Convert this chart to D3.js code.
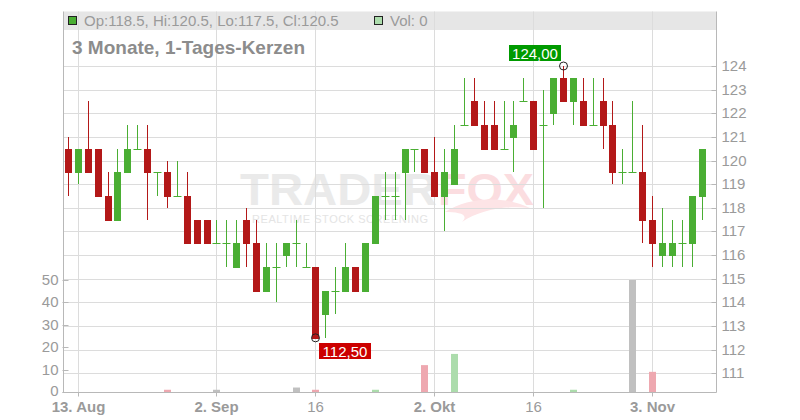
<!DOCTYPE html>
<html><head><meta charset="utf-8">
<script src="https://cdn.jsdelivr.net/npm/d3@7"></script>
<style>
body{margin:0;background:#fff}
svg{display:block}
text{font-family:"Liberation Sans",Arial,Helvetica,sans-serif}
</style>
</head><body>
<svg id="chart" width="800" height="420"></svg>
<script>
// ---- data ----
const firstDay = "2025-08-12";
const lastDay = "2025-11-10";
const openVals  = [120.5,119.5,120.5,120.5,118.5,117.5,119.5,120.5,120.5,119.5,119.5,118.5,118.5,117.5,117.5,116.5,116.5,115.5,117.5,116.5,114.5,115.5,116,116.5,115.5,115.5,113.5,114.5,114.5,115.5,114.5,116.5,118.5,118.5,119.5,120.5,120.5,119.5,118.5,119,121.5,122.5,121.5,121.5,120.5,121,122.5,122.5,121.5,122,123.5,122.5,122.5,121.5,122.5,121.5,119.5,119.5,119.5,117.5,116,116,116.5,116.5,118.5];
const highVals  = [121,120.5,122.5,120.5,119.5,120.5,121.5,121.5,121.5,119.5,120,120,119.5,117.5,117.5,117.5,117.5,117.5,118,117.5,116.5,116.5,116.5,117.5,116.5,115.5,114.5,115.5,116.5,115.5,116.5,118.5,119.5,119.5,120.5,120.5,120.5,121,120.5,121.5,123.5,123.5,122.5,122.5,122.5,122.5,123.5,122.5,123,123.5,124,123.5,123.5,123.5,123.5,122.5,120.5,122.5,121.5,118.5,118,117.5,117.5,118.5,120.5];
const lowVals   = [118.5,119,119.5,118.5,117.5,117.5,119.5,120.5,117.5,118.5,118,118.5,116.5,116.5,116.5,116.5,115.5,115.5,115.5,114.5,114.5,114,115.5,115.5,115.5,112.5,112.5,113.5,114.5,114.5,114.5,116.5,117.5,117.5,117.5,119.5,119.5,118.5,117,119,121.5,121.5,120.5,120.5,120.5,119.5,122.5,120.5,118,121.5,122.5,121.5,121.5,121.5,120.5,119,119,119.5,116.5,115.5,115.5,115.5,115.5,115.5,117.5];
const closeVals = [119.5,120.5,119.5,118.5,117.5,119.5,120.5,120.5,119.5,119.5,118.5,118.5,116.5,116.5,116.5,116.5,116.5,116.5,116.5,114.5,115.5,115.5,116.5,116.5,115.5,112.5,114.5,114.5,115.5,114.5,116.5,118.5,118.5,118.5,120.5,120.5,119.5,118.5,119.5,120.5,121.5,121.5,120.5,120.5,120.5,121.5,122.5,120.5,121.5,123.5,122.5,123.5,121.5,121.5,121.5,119.5,119.5,119.5,117.5,116.5,116.5,116.5,116.5,118.5,120.5];
const volumeVals = [0,0,0,0,0,0,0,0,0,0,1,0,0,0,0,1,0,0,0,0,0,0,0,2,0,1,0,0,0,0,0,1,0,0,0,0,12,0,0,17,0,0,0,0,0,0,0,0,0,0,0,1,0,0,0,0,0,50,0,9,0,0,0,0,0];
const priceTicks = [111,112,113,114,115,116,117,118,119,120,121,122,123,124];
const volumeTicks = [0,10,20,30,40,50];
const tickDates  = ["2025-08-13","2025-09-02","2025-09-16","2025-10-02","2025-10-16","2025-11-03"];
const tickLabels = ["13. Aug","2. Sep","16","2. Okt","16","3. Nov"];
const tickBold   = [true,true,false,true,false,true];
const titleText = "3 Monate, 1-Tages-Kerzen";
const legendText = "Op:118.5, Hi:120.5, Lo:117.5, Cl:120.5";
const volLegendText = "Vol: 0";

// ---- trading days (weekdays) ----
const fmt = d3.timeFormat("%Y-%m-%d");
const parse = d3.timeParse("%Y-%m-%d");
const days = d3.timeDay.range(parse(firstDay), d3.timeDay.offset(parse(lastDay),1))
  .filter(d => d.getDay() !== 0 && d.getDay() !== 6).map(fmt);

const data = days.map((d,i)=>({date:d,o:openVals[i],h:highVals[i],l:lowVals[i],c:closeVals[i],v:volumeVals[i]}));

const RED = "#b31818", GREEN = "#4aae33";
const PINK = "#eea8b0", LGREEN = "#acdcac", GRAY = "#c0c0c0";
const TXT = "#9a9a9a";

const L = 63.5, R = 716.5, T = 11.5, B = 392.5;

const svg = d3.select("#chart");
const x = d3.scaleBand().domain(days).range([63.5, 707.0]).paddingInner(0).paddingOuter(0);
const cx = d => Math.floor(x(d) + x.bandwidth()/2) + 0.5;
const y = d3.scaleLinear().domain([111,124]).range([373.3,66]);
const yv = d3.scaleLinear().domain([0,50]).range([392,280]);
const py = v => Math.round(y(v));

// legend bar
svg.append("rect").attr("x",L).attr("y",T).attr("width",R-L).attr("height",30-T).attr("fill","#e6e6e6");

// watermark
const wm = svg.append("g");
wm.append("text").attr("x",240).attr("y",205).attr("font-size",44).attr("font-weight","bold")
  .attr("fill","#eaeaea").attr("textLength",197).attr("lengthAdjust","spacingAndGlyphs").text("TRADER");
wm.append("text").attr("x",438).attr("y",205).attr("font-size",44).attr("font-weight","bold")
  .attr("fill","#fbdde0").attr("textLength",96).attr("lengthAdjust","spacingAndGlyphs").text("FOX");
wm.append("path").attr("d","M445,212 C470,196 505,196 530,208 C505,205 480,210 462,222 C470,214 458,212 445,212 Z")
  .attr("fill","#fde4e6");
wm.append("text").attr("x",252).attr("y",223).attr("font-size",11)
  .attr("fill","#e4e4e4").attr("textLength",176).attr("lengthAdjust","spacing").text("REALTIME STOCK SCREENING");

// horizontal grid
svg.append("g").selectAll("line").data(priceTicks).join("line")
  .attr("x1",L).attr("x2",R).attr("y1",d=>py(d)+0.5).attr("y2",d=>py(d)+0.5)
  .attr("stroke","#dcdcdc").attr("stroke-width",1);
// vertical grid
svg.append("g").selectAll("line").data(tickDates).join("line")
  .attr("x1",d=>cx(d)).attr("x2",d=>cx(d)).attr("y1",T).attr("y2",B)
  .attr("stroke","#dcdcdc").attr("stroke-width",1);

// volume bars
svg.append("g").selectAll("rect").data(data.filter(d=>d.v>0)).join("rect")
  .attr("x",d=>Math.round(cx(d.date)-3.5)).attr("width",7)
  .attr("y",d=>yv(d.v)).attr("height",d=>392-yv(d.v))
  .attr("fill",d=>d.c<d.o?PINK:(d.c>d.o?LGREEN:GRAY));

// candles
const cg = svg.append("g");
data.forEach(d=>{
  const col = d.c<d.o?RED:GREEN;
  const X = cx(d.date);
  cg.append("line").attr("x1",X).attr("x2",X).attr("y1",py(d.h)).attr("y2",py(d.l))
    .attr("stroke",col).attr("stroke-width",1);
  if(d.o===d.c){
    cg.append("line").attr("x1",X-4).attr("x2",X+4).attr("y1",py(d.o)+0.5).attr("y2",py(d.o)+0.5)
      .attr("stroke",col).attr("stroke-width",1);
  } else {
    const top = py(Math.max(d.o,d.c)), bot = py(Math.min(d.o,d.c));
    cg.append("rect").attr("x",Math.round(X-3.5)).attr("width",7).attr("y",top).attr("height",bot-top+1).attr("fill",col);
  }
});

// axes lines
svg.append("line").attr("x1",L).attr("x2",L).attr("y1",T).attr("y2",B).attr("stroke","#b8b8b8");
svg.append("line").attr("x1",R).attr("x2",R).attr("y1",T).attr("y2",B).attr("stroke","#b8b8b8");
svg.append("line").attr("x1",L-1).attr("x2",R).attr("y1",B).attr("y2",B).attr("stroke","#b8b8b8");

// right price axis
const ra = svg.append("g").attr("transform",`translate(${R},0)`)
  .call(d3.axisRight(y).tickValues(priceTicks).tickFormat(d3.format("d")).tickSizeInner(-5).tickSizeOuter(0).tickPadding(5));
ra.select(".domain").remove();
ra.selectAll(".tick line").attr("stroke","#b8b8b8");
ra.selectAll(".tick").attr("transform",d=>`translate(0,${py(d)+0.5})`);
ra.selectAll("text").attr("fill",TXT).attr("font-size",15).attr("font-family","Liberation Sans, Arial, sans-serif");

// left volume axis
const la = svg.append("g").attr("transform",`translate(${L},0)`)
  .call(d3.axisLeft(yv).tickValues(volumeTicks).tickSizeInner(-5).tickSizeOuter(0).tickPadding(5));
la.select(".domain").remove();
la.selectAll(".tick line").attr("stroke","#b8b8b8").attr("x1",-1);
la.selectAll(".tick").attr("transform",d=>`translate(0,${Math.round(yv(d))+0.5})`);
la.selectAll("text").attr("fill",TXT).attr("font-size",15).attr("font-family","Liberation Sans, Arial, sans-serif")
  .attr("dy",d=>d===0?"0.2em":"0.32em");

// bottom date axis
const xa = svg.append("g").attr("transform",`translate(0,${B})`)
  .call(d3.axisBottom(x).tickValues(tickDates).tickFormat((d,i)=>tickLabels[i]).tickSizeInner(4).tickSizeOuter(0).tickPadding(5));
xa.select(".domain").remove();
xa.selectAll(".tick").attr("transform",d=>`translate(${cx(d)},0)`);
xa.selectAll(".tick line").attr("stroke","#b8b8b8");
xa.selectAll("text").attr("fill",TXT).attr("font-size",15).attr("font-family","Liberation Sans, Arial, sans-serif")
  .attr("font-weight",(d,i)=>tickBold[i]?"bold":"normal");

// legend
svg.append("rect").attr("x",68.5).attr("y",16.5).attr("width",8).attr("height",8).attr("fill",GREEN).attr("stroke","#222");
svg.append("text").attr("x",84).attr("y",26).attr("font-size",15).attr("fill",TXT).text(legendText);
svg.append("rect").attr("x",374.5).attr("y",16.5).attr("width",8).attr("height",8).attr("fill",LGREEN).attr("stroke","#222");
svg.append("text").attr("x",390).attr("y",26).attr("font-size",15).attr("fill",TXT).text(volLegendText);

// title
svg.append("text").attr("x",72).attr("y",54).attr("font-size",19).attr("font-weight","bold").attr("fill","#8c8c8c").text(titleText);

// max/min markers
const maxI = d3.maxIndex(data,d=>d.h), minI = d3.minIndex(data,d=>d.l);
const fmtDe = v => d3.format(".2f")(v).replace(".",",");
function marker(i, val, isMax){
  const X = cx(data[i].date), Y = y(val);
  const g = svg.append("g");
  const w = 52, h = 16;
  const bx = isMax ? X - 3 - w : X + 3;
  const by = isMax ? Y - 5 - h : Y + 5;
  g.append("rect").attr("x",Math.round(bx)).attr("y",Math.round(by)).attr("width",w).attr("height",h)
    .attr("fill",isMax?"#009a00":"#cc0000");
  g.append("text").attr("x",Math.round(bx)+w/2).attr("y",Math.round(by)+13.5).attr("text-anchor","middle")
    .attr("font-size",15).attr("fill","#fff").text(fmtDe(val));
  g.append("circle").attr("cx",X).attr("cy",Y).attr("r",4).attr("fill","none").attr("stroke","#222").attr("stroke-width",1);
}
marker(maxI, data[maxI].h, true);
marker(minI, data[minI].l, false);
</script>
</body></html>
